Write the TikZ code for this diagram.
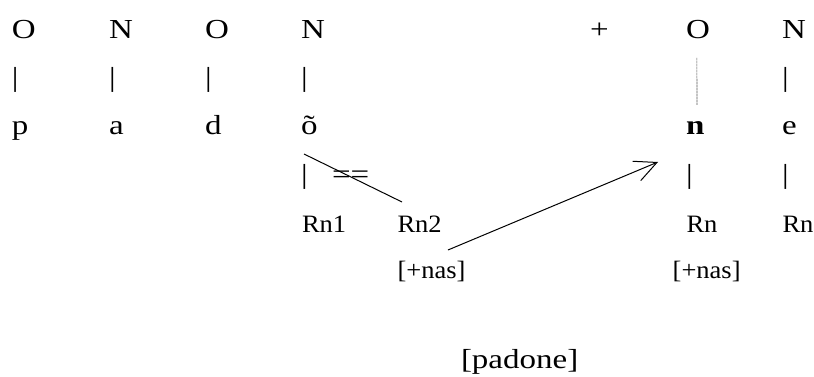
\documentclass[tikz,border=0pt]{standalone}
\usepackage{fontspec}
\setmainfont{Liberation Serif}
\usepackage{graphicx}
\usetikzlibrary{arrows.meta,calc}
\newcommand\bigtxt[1]{\scalebox{1.2}[1]{\fontsize{27.5}{30}\selectfont #1}}
\newcommand\smtxt[1]{\scalebox{1.06}[1]{\fontsize{25}{28}\selectfont #1}}
\tikzset{
  lbl/.style={inner sep=0pt, outer sep=0pt, anchor=base west},
  link/.style={line width=1pt},
  dotlink/.style={line width=0.6pt, dash pattern=on 0.6pt off 0.9pt},
  arrowlink/.style={line width=1pt, -{Straight Barb[length=22pt,width=21pt]}}
}
\begin{document}
\begin{tikzpicture}[x=1pt,y=-1pt]
\useasboundingbox (0,0) rectangle (814,377);
% row 1
\node[lbl] (O1) at (12,39) {\bigtxt{O}};
\node[lbl] (N1) at (109,39) {\bigtxt{N}};
\node[lbl] (O2) at (205,39) {\bigtxt{O}};
\node[lbl] (N2) at (301,39) {\bigtxt{N}};
\node[lbl] (plus) at (590,39) {\bigtxt{+}};
\node[lbl] (O3) at (686,39) {\bigtxt{O}};
\node[lbl] (N3) at (782,39) {\bigtxt{N}};
% row 2
\node[lbl] (b1) at (12,87) {\bigtxt{|}};
\node[lbl] (b2) at (109,87) {\bigtxt{|}};
\node[lbl] (b3) at (205,87) {\bigtxt{|}};
\node[lbl] (b4) at (301,87) {\bigtxt{|}};
\node[lbl] (b8) at (782,87) {\bigtxt{|}};
% row 3
\node[lbl] (p) at (12,135) {\bigtxt{p}};
\node[lbl] (a) at (109,135) {\bigtxt{a}};
\node[lbl] (d) at (205,135) {\bigtxt{d}};
\node[lbl] (ot) at (301,135) {\bigtxt{õ}};
\node[lbl] (n) at (686,135) {\bigtxt{\textbf{n}}};
\node[lbl] (e) at (782,135) {\bigtxt{e}};
% row 4
\node[lbl] (b5) at (301,183) {\bigtxt{|}};
\node[lbl] (eq) at (332,183) {\bigtxt{==}};
\node[lbl] (b6) at (686,183) {\bigtxt{|}};
\node[lbl] (b7) at (782,183) {\bigtxt{|}};
% row 5
\node[lbl] (Rn1) at (302,232.7) {\smtxt{Rn1}};
\node[lbl] (Rn2) at (397.5,232.7) {\smtxt{Rn2}};
\node[lbl] (Rn3) at (686.5,232.7) {\smtxt{Rn}};
\node[lbl] (Rn4) at (782.5,232.7) {\smtxt{Rn}};
% row 6
\node[lbl] (nas1) at (397.5,278) {\smtxt{[+nas]}};
\node[lbl] (nas2) at (672.7,278) {\smtxt{[+nas]}};
% row 7
\node[lbl] (pad) at (461,368) {\bigtxt{[padone]}};
% connectors
\draw[dotlink] ($(O3.base)+(-1,19)$) -- ($(n.base)+(1.8,-30)$);
\draw[link] ($(ot.base west)+(3,19)$) -- ($(Rn2.base west)+(4.5,-30.7)$);
\draw[arrowlink] ($(Rn2.base east)+(6.3,17.3)$) -- ($(b6.base west)+(-28,-21)$);
\end{tikzpicture}
\end{document}
